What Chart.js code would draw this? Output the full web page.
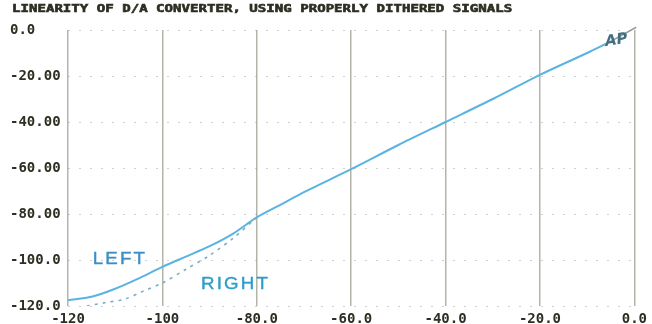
<!DOCTYPE html>
<html><head><meta charset="utf-8">
<script src="https://cdn.jsdelivr.net/npm/chart.js@4/dist/chart.umd.min.js"></script>
<style>html,body{margin:0;padding:0;background:#fff}#w{width:652px;height:324px;position:relative}</style>
</head><body><div id="w"><canvas id="c"></canvas></div>
<script>
const titleText = "LINEARITY OF D/A CONVERTER, USING PROPERLY DITHERED SIGNALS";
const xTicks = [-120, -100, -80, -60, -40, -20, 0];
const xTickLabels = ["-120", "-100", "-80.0", "-60.0", "-40.0", "-20.0", "0.0"];
const yTicks = [0, -20, -40, -60, -80, -100, -120];
const yTickLabels = ["0.0", "-20.00", "-40.00", "-60.00", "-80.00", "-100.0", "-120.0"];
const leftX = [-120, -115, -110, -105, -100, -95, -90, -85, -80, -75, -70, -60, -50, -40, -30, -20, -10, -5.5];
const leftY = [-117.5, -116, -112.5, -108, -103, -98.5, -94, -88.5, -81.5, -76, -70.5, -60.5, -50, -40, -30, -19.5, -10, -5.5];
const rightX = [-116, -112, -108, -104, -100, -95, -90, -85, -80];
const rightY = [-120, -118.5, -117, -113.5, -110, -104, -98, -90.5, -81.5];
const tailX = [-5.5, 0.4];
const tailY = [-5.5, 1.2];
const annotations = [
  {text: "LEFT", x: -109, y: -99.5, color: "#3b8fc6"},
  {text: "RIGHT", x: -84.5, y: -110.5, color: "#2c9dcb"}
];

const pts = (xs, ys) => xs.map((x, i) => ({x, y: ys[i]}));

const overlay = {
  id: 'overlay',
  afterDraw(chart) {
    const ctx = chart.ctx;
    ctx.save();
    ctx.fillStyle = '#2e2e22';
    ctx.strokeStyle = '#2e2e22';
    ctx.lineWidth = 0.6;
    ctx.font = 'bold 11px "DejaVu Sans Mono"';
    ctx.textBaseline = 'middle';
    ctx.translate(12, 9);
    ctx.scale(1.28, 0.95);
    ctx.fillText(titleText, 0, 0);
    ctx.strokeText(titleText, 0, 0);
    ctx.restore();

    const xs = chart.scales.x, ys = chart.scales.y;
    ctx.save();
    ctx.textAlign = 'center';
    ctx.textBaseline = 'middle';
    annotations.forEach(a => {
      ctx.fillStyle = a.color;
      ctx.strokeStyle = a.color;
      ctx.lineWidth = 0.4;
      ctx.font = '17px "Liberation Sans"';
      const px = xs.getPixelForValue(a.x), py = ys.getPixelForValue(a.y);
      ctx.save();
      ctx.translate(px, py);
      ctx.scale(1.1, 1);
      ctx.letterSpacing = '2px';
      ctx.fillText(a.text, 0, 0);
      ctx.strokeText(a.text, 0, 0);
      ctx.restore();
    });
    ctx.save();
    ctx.fillStyle = '#3f6f80';
    ctx.font = 'italic bold 15px "DejaVu Sans"';
    ctx.translate(xs.getPixelForValue(-3.8), ys.getPixelForValue(-4.5));
    ctx.rotate(-0.15);
    ctx.fillText('AP', 0, 0);
    ctx.restore();
    ctx.restore();
  }
};

new Chart(document.getElementById('c'), {
  type: 'scatter',
  data: {
    datasets: [
      {data: pts(rightX, rightY), showLine: true, borderColor: '#79aec6', borderWidth: 1.6, borderDash: [3, 5], pointRadius: 0, tension: 0.3},
      {data: pts(tailX, tailY), showLine: true, borderColor: '#9a9a9a', borderWidth: 1.5, pointRadius: 0, clip: false},
      {data: pts(leftX, leftY), showLine: true, borderColor: '#5ab3e0', borderWidth: 2, pointRadius: 0, tension: 0.3}
    ]
  },
  plugins: [overlay],
  options: {
    responsive: true, maintainAspectRatio: false, animation: false,
    layout: {padding: {left: 10, right: 12, top: 30, bottom: 0}},
    plugins: {legend: {display: false}, tooltip: {enabled: false}},
    scales: {
      x: {
        type: 'linear', min: -120, max: 0,
        afterBuildTicks: s => { s.ticks = xTicks.map(v => ({value: v})); },
        afterFit: s => { s.height = 18; },
        border: {display: false},
        grid: {color: '#b4b5a8', lineWidth: 1.5, drawTicks: false},
        ticks: {
          padding: 5, maxRotation: 0, autoSkip: false, color: '#2e2e22',
          font: {family: 'DejaVu Sans Mono', size: 14, weight: 'bold'},
          callback: v => xTickLabels[xTicks.indexOf(v)]
        }
      },
      y: {
        type: 'linear', min: -120, max: 0,
        afterBuildTicks: s => { s.ticks = yTicks.map(v => ({value: v})); },
        afterFit: s => { s.width = 58; },
        border: {display: false, dash: [2, 9]},
        grid: {color: 'rgba(140,140,140,0.4)', lineWidth: 1, drawTicks: false},
        ticks: {
          padding: 4, crossAlign: 'far', color: '#2e2e22',
          font: {family: 'DejaVu Sans Mono', size: 14, weight: 'bold'},
          callback: v => yTickLabels[yTicks.indexOf(v)]
        }
      }
    }
  }
});
</script></body></html>
